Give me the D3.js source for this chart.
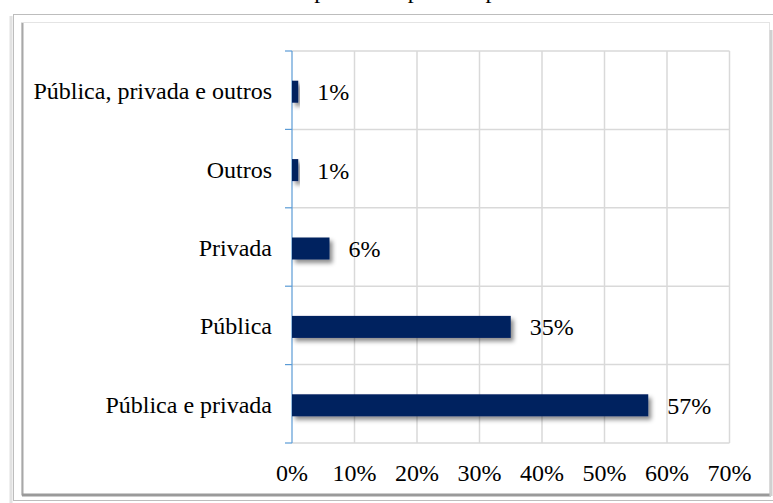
<!DOCTYPE html>
<html>
<head>
<meta charset="utf-8">
<script src="https://cdn.jsdelivr.net/npm/d3@7"></script>
<style>
  body { margin: 0; background: #fff; }
  text { font-family: "Liberation Serif", "Times New Roman", serif; fill: #000; }
</style>
</head>
<body>
<div id="chart"></div>
<script>
// data
var categories = ["Pública, privada e outros", "Outros", "Privada", "Pública", "Pública e privada"];
var values = [0.01, 0.01, 0.06, 0.35, 0.57];
var xTicks = [0, 0.1, 0.2, 0.3, 0.4, 0.5, 0.6, 0.7];
var title = "Parceria pública e privada por setor";

var W = 773, H = 503;
var svg = d3.select("#chart").append("svg")
  .attr("width", W)
  .attr("height", H);

var defs = svg.append("defs");
var shadow = defs.append("filter").attr("id", "barShadow")
  .attr("x", "-10%").attr("y", "-40%").attr("width", "130%").attr("height", "200%");
shadow.append("feDropShadow")
  .attr("dx", 3).attr("dy", 3.5).attr("stdDeviation", 2)
  .attr("flood-color", "#000").attr("flood-opacity", 0.45);

// frame (outer + bevelled inner box)
svg.append("line").attr("x1", 11).attr("x2", 11).attr("y1", 16).attr("y2", 503)
  .attr("stroke", "#e2e2e2").attr("stroke-width", 3);
svg.append("rect").attr("x", 13.5).attr("y", 14.5).attr("width", 780).attr("height", 486)
  .attr("fill", "#fff").attr("stroke", "#bdbdbd");
svg.append("rect").attr("x", 21.5).attr("y", 22.5).attr("width", 748).attr("height", 473)
  .attr("fill", "#fff").attr("stroke", "#e4e4e4");
svg.append("line").attr("x1", 22.5).attr("x2", 22.5).attr("y1", 23).attr("y2", 495)
  .attr("stroke", "#a8a8a8").attr("stroke-width", 2);
svg.append("line").attr("x1", 22).attr("x2", 771).attr("y1", 495).attr("y2", 495)
  .attr("stroke", "#9a9a9a").attr("stroke-width", 3);
svg.append("line").attr("x1", 771).attr("x2", 771).attr("y1", 30).attr("y2", 496)
  .attr("stroke", "#d0d0d0").attr("stroke-width", 3);

// clipped title at the very top
svg.append("text")
  .attr("x", 400).attr("y", -2)
  .attr("text-anchor", "middle")
  .style("font-size", "24px")
  .text(title);

// scales
var x = d3.scaleLinear().domain([0, 0.7]).range([292, 729.5]);
var y = d3.scaleBand().domain(categories).range([51, 443]);
var barH = 22;

// grid
var grid = svg.append("g").attr("class", "grid");
grid.selectAll("line.v")
  .data(xTicks.slice(1))
  .enter().append("line")
  .attr("class", "v")
  .attr("x1", d => x(d)).attr("x2", d => x(d))
  .attr("y1", y.range()[0]).attr("y2", y.range()[1])
  .attr("stroke", "#d9d9d9").attr("stroke-width", 1.5);

var bounds = categories.map(c => y(c)).concat([y.range()[1]]);
grid.selectAll("line.h")
  .data(bounds)
  .enter().append("line")
  .attr("class", "h")
  .attr("x1", x(0)).attr("x2", x(0.7))
  .attr("y1", d => d).attr("y2", d => d)
  .attr("stroke", "#d9d9d9").attr("stroke-width", 1.5);

// y axis line with ticks at band boundaries
var yAxis = svg.append("g").attr("class", "y-axis");
yAxis.append("line")
  .attr("x1", x(0)).attr("x2", x(0))
  .attr("y1", y.range()[0]).attr("y2", y.range()[1])
  .attr("stroke", "#5b9bd5").attr("stroke-width", 1.2);
yAxis.selectAll("line.tick")
  .data(bounds)
  .enter().append("line")
  .attr("class", "tick")
  .attr("x1", x(0) - 7).attr("x2", x(0))
  .attr("y1", d => d).attr("y2", d => d)
  .attr("stroke", "#5b9bd5").attr("stroke-width", 1.2);

// category labels
svg.append("g").selectAll("text")
  .data(categories)
  .enter().append("text")
  .attr("x", 272)
  .attr("y", d => y(d) + y.bandwidth() / 2 + 9)
  .attr("text-anchor", "end")
  .style("font-size", "24px")
  .text(d => d);

// x tick labels
svg.append("g").selectAll("text")
  .data(xTicks)
  .enter().append("text")
  .attr("x", d => x(d))
  .attr("y", 481)
  .attr("text-anchor", "middle")
  .style("font-size", "24px")
  .text(d => d3.format(".0%")(d));

// bars
svg.append("g").selectAll("rect")
  .data(values)
  .enter().append("rect")
  .attr("x", x(0))
  .attr("y", (d, i) => y(categories[i]) + y.bandwidth() / 2 - barH / 2 + 1.5)
  .attr("width", d => x(d) - x(0))
  .attr("height", barH)
  .attr("fill", "#00205f")
  .attr("filter", "url(#barShadow)");

// value labels
svg.append("g").selectAll("text")
  .data(values)
  .enter().append("text")
  .attr("x", d => x(d) + 19)
  .attr("y", (d, i) => y(categories[i]) + y.bandwidth() / 2 + 10)
  .style("font-size", "24px")
  .text(d => d3.format(".0%")(d));
</script>
</body>
</html>
